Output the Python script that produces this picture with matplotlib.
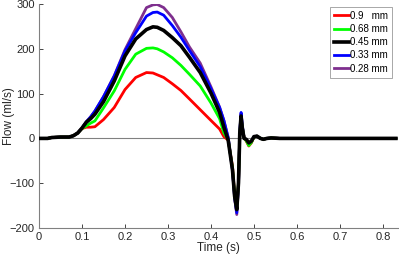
import matplotlib
matplotlib.use("Agg")
import matplotlib.pyplot as plt

t = [0, 0.02, 0.03, 0.05, 0.07, 0.08, 0.09, 0.10, 0.11, 0.12, 0.13, 0.15, 0.175,
     0.20, 0.225, 0.25, 0.265, 0.275, 0.29, 0.31, 0.33, 0.35, 0.375, 0.40, 0.42,
     0.43, 0.44, 0.45, 0.455, 0.46, 0.464, 0.467, 0.47, 0.473, 0.477, 0.482,
     0.488, 0.494, 0.50, 0.507, 0.515, 0.522, 0.53, 0.54, 0.56, 0.6, 0.7, 0.8, 0.83]

flow_090 = [0, 0, 2, 3, 3, 6, 12, 22, 25, 25, 26, 42, 69,
            109, 136, 147, 146, 142, 136, 122, 107, 88, 64, 40, 21,
            4, -4, -62, -125, -155, -100, 8, 44, 24, 2, -6,
            -17, -10, 3, 5, 0, -2, 0, 1, 0, 0, 0, 0, 0]
flow_068 = [0, 0, 2, 3, 3, 6, 12, 22, 28, 34, 39, 68, 106,
            154, 188, 201, 202, 200, 193, 180, 163, 143, 117, 79, 44,
            12, -3, -66, -127, -157, -100, 10, 46, 24, 1, -5,
            -16, -9, 3, 5, 0, -2, 0, 1, 0, 0, 0, 0, 0]
flow_045 = [0, 0, 2, 3, 3, 6, 12, 23, 36, 44, 54, 82, 128,
            184, 222, 243, 249, 248, 241, 225, 207, 181, 147, 101, 58,
            25, -4, -70, -129, -159, -99, 12, 50, 22, 0, -2,
            -10, -6, 4, 5, 0, -2, 0, 1, 0, 0, 0, 0, 0]
flow_033 = [0, 0, 2, 3, 3, 6, 12, 23, 37, 48, 61, 93, 139,
            195, 236, 273, 281, 282, 275, 252, 226, 196, 160, 111, 69,
            40, 2, -70, -132, -166, -105, 15, 58, 28, 1, -3,
            -12, -7, 4, 5, 0, -2, 0, 1, 0, 0, 0, 0, 0]
flow_028 = [0, 0, 2, 3, 3, 6, 12, 23, 37, 48, 61, 93, 140,
            198, 245, 292, 298, 299, 292, 270, 238, 204, 168, 115, 70,
            40, 2, -72, -134, -170, -107, 14, 55, 27, 1, -3,
            -12, -7, 4, 5, 0, -2, 0, 1, 0, 0, 0, 0, 0]

labels = ["0.9   mm", "0.68 mm", "0.45 mm", "0.33 mm", "0.28 mm"]
colors = ["#FF0000", "#00FF00", "#000000", "#0000FF", "#7E2F8E"]
widths = [2.0, 2.0, 2.6, 2.0, 2.0]
series = [flow_090, flow_068, flow_045, flow_033, flow_028]

xticks = [0, 0.1, 0.2, 0.3, 0.4, 0.5, 0.6, 0.7, 0.8]
yticks = [-200, -100, 0, 100, 200, 300]

plt.rcParams['font.family'] = ['Liberation Sans', 'DejaVu Sans']

fig = plt.figure(figsize=(3.99, 2.60), dpi=100)
ax = fig.add_axes([39/399, 1-228/260, (398-39)/399, (228-4)/260])

ax.axhline(0, color="#808080", lw=0.8, zorder=1)
order = [4, 3, 0, 1, 2]
handles = {}
for i in order:
    h, = ax.plot(t, series[i], color=colors[i], lw=widths[i], label=labels[i],
                 zorder=2 + (i == 2))
    handles[i] = h

ax.set_xlim(0, 0.835)
ax.set_ylim(-200, 300)
ax.set_xticks(xticks)
ax.set_xticklabels([("%g" % v) for v in xticks])
ax.set_yticks(yticks)
ax.tick_params(direction="in", length=3, width=0.6, colors="#262626", labelsize=8,
               top=False, right=False, pad=3)
for s in ["top", "right"]:
    ax.spines[s].set_visible(False)
for s in ["left", "bottom"]:
    ax.spines[s].set_color("#808080")
    ax.spines[s].set_linewidth(0.8)

ax.set_xlabel("Time (s)", fontsize=8.5, color="#262626", va="center")
ax.set_ylabel("Flow (ml/s)", fontsize=8.5, color="#262626", va="center")
ax.xaxis.set_label_coords(0.5, -0.089)
ax.yaxis.set_label_coords(-0.083, 0.5)

leg = ax.legend([handles[i] for i in range(5)], labels, loc="upper right",
                bbox_to_anchor=(0.982, 0.987), fontsize=7, handlelength=1.55,
                handletextpad=0.1, borderpad=0.4, labelspacing=0.33,
                frameon=True, fancybox=False, borderaxespad=0)
leg.get_frame().set_edgecolor("#808080")
leg.get_frame().set_linewidth(0.6)

fig.savefig("out.png", dpi=100)
